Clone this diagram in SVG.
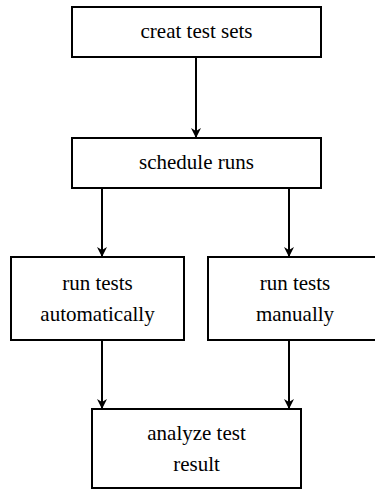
<svg xmlns="http://www.w3.org/2000/svg" width="375" height="490" viewBox="0 0 375 490">
  <style>
    .box { fill: #ffffff; stroke: #000000; stroke-width: 2; }
    .label { font-family: "Liberation Serif", "Times New Roman", serif; font-size: 21px; fill: #000000; text-anchor: middle; }
    .edge { stroke: #000000; stroke-width: 2; fill: none; marker-end: url(#arrow); }
  </style>
  <defs>
    <marker id="arrow" markerUnits="userSpaceOnUse" markerWidth="10" markerHeight="12" refX="9" refY="5" orient="auto">
      <path d="M0,0 L10,5 L0,10 L3,5 Z" fill="#000000" transform="translate(0,0)"/>
    </marker>
  </defs>
  <rect width="375" height="490" fill="#ffffff"/>

  <g id="connectors">
    <line class="edge" x1="196" y1="57" x2="196" y2="137"/>
    <line class="edge" x1="102" y1="188" x2="102" y2="256"/>
    <line class="edge" x1="289" y1="188" x2="289" y2="256"/>
    <line class="edge" x1="102" y1="340" x2="102" y2="408"/>
    <line class="edge" x1="289" y1="340" x2="289" y2="408"/>
  </g>

  <g id="create-test-sets">
    <rect class="box" x="72" y="7" width="249" height="50"/>
    <text class="label" x="196.5" y="38">creat test sets</text>
  </g>

  <g id="schedule-runs">
    <rect class="box" x="72" y="138" width="249" height="50"/>
    <text class="label" x="196.5" y="169">schedule runs</text>
  </g>

  <g id="run-tests-automatically">
    <rect class="box" x="11" y="257" width="173" height="83"/>
    <text class="label" x="97.5" y="290">run tests</text>
    <text class="label" x="97.5" y="321">automatically</text>
  </g>

  <g id="run-tests-manually">
    <rect class="box" x="208" y="257" width="174" height="83"/>
    <text class="label" x="295" y="290">run tests</text>
    <text class="label" x="295" y="321">manually</text>
  </g>

  <g id="analyze-test-result">
    <rect class="box" x="92" y="409" width="209" height="79"/>
    <text class="label" x="196.5" y="440">analyze test</text>
    <text class="label" x="196.5" y="471">result</text>
  </g>
</svg>
